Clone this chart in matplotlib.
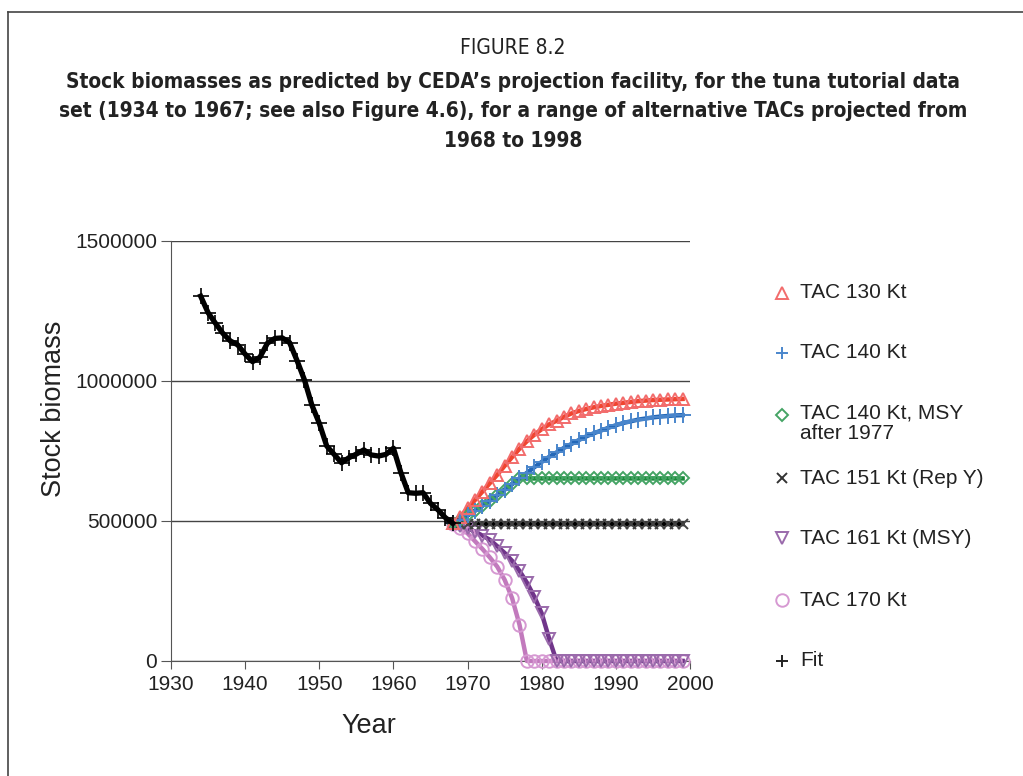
import matplotlib
matplotlib.use('Agg')
import matplotlib.pyplot as plt
from matplotlib.lines import Line2D
from matplotlib.ticker import FuncFormatter
from matplotlib import font_manager

plt.rcParams['font.family'] = ['Liberation Sans', 'DejaVu Sans']

# a condensed face for the caption, if there is one
title_family = 'Liberation Sans'
title_stretch = 'normal'
for f in font_manager.fontManager.ttflist:
    if f.name == 'DejaVu Sans' and str(f.stretch) in ('condensed', 'semi-condensed'):
        title_family, title_stretch = 'DejaVu Sans', 'condensed'
        break

# fitted biomass 1934-1968 (thousands of tonnes)
fit_years = list(range(1934, 1969))
fit_vals = [1303, 1244, 1206, 1170, 1143, 1129, 1096, 1069, 1085, 1135,
            1152, 1154, 1137, 1073, 1004, 914, 849, 768, 738, 708,
            726, 739, 754, 736, 732, 738, 760, 673, 601, 599,
            601, 563, 540, 512, 492]

# projections 1968-1999
proj_years = list(range(1968, 2000))
tac130 = [492, 515, 545, 575, 605, 635, 665, 697, 728, 758, 785, 808, 828, 845, 858, 872,
          884, 893, 900, 906, 911, 915, 919, 922, 925, 928, 930, 932, 933, 934, 935, 936]
tac140 = [492, 505, 520, 537, 555, 573, 592, 612, 632, 652, 672, 692, 711, 729, 745, 761,
          775, 789, 802, 813, 823, 833, 842, 850, 856, 862, 866, 870, 873, 875, 877, 878]
tac140_msy = [492, 505, 520, 537, 555, 573, 592, 612, 632, 652, 652, 652, 652, 652, 652, 652,
              652, 652, 652, 652, 652, 652, 652, 652, 652, 652, 652, 652, 652, 652, 652, 652]
tac151 = [492, 490, 489, 489, 489, 489, 489, 489, 489, 489, 489, 489, 489, 489, 489, 489,
          489, 489, 489, 489, 489, 489, 489, 489, 489, 489, 489, 489, 489, 489, 489, 489]
tac161 = [490, 483, 474, 462, 448, 433, 410, 386, 358, 322, 280, 230, 170, 80, 0, 0,
          0, 0, 0, 0, 0, 0, 0, 0, 0, 0, 0, 0, 0, 0, 0, 0]
tac170 = [490, 475, 456, 428, 400, 370, 337, 290, 225, 130, 0, 0, 0, 0, 0, 0,
          0, 0, 0, 0, 0, 0, 0, 0, 0, 0, 0, 0, 0, 0, 0, 0]

series = [
    # label, values, line colour, marker colour, marker, size
    ('TAC 170 Kt', tac170, '#c27abd', '#d699d2', 'o', 9),
    ('TAC 161 Kt (MSY)', tac161, '#70358a', '#9a6aab', 'v', 8),
    ('TAC 151 Kt (Rep Y)', tac151, '#000000', '#444444', 'x', 7),
    ('TAC 140 Kt, MSY\nafter 1977', tac140_msy, '#1a8a3a', '#45a465', 'D', 6),
    ('TAC 140 Kt', tac140, '#2468b8', '#4a86cc', '+', 11),
    ('TAC 130 Kt', tac130, '#f04530', '#f26c6c', '^', 8),
]

fig = plt.figure(figsize=(10.23, 7.76), dpi=100)
ax = fig.add_axes([171 / 1023, 1 - 661 / 776, 519 / 1023, 420 / 776])

for label, vals, lc, mc, mk, ms in series:
    v = [x * 1000 for x in vals]
    ax.plot(proj_years, v, color=lc, lw=3.2, zorder=3, clip_on=False)
    ax.plot(proj_years, v, ls='none', marker=mk, ms=ms, mfc='none', mec=mc,
            mew=1.4, zorder=4, clip_on=False)

fv = [x * 1000 for x in fit_vals]
ax.plot(fit_years, fv, color='black', lw=3.8, zorder=5)
ax.plot(fit_years, fv, ls='none', marker='+', ms=11, mec='black', mew=1.2, zorder=6)

ax.set_xlim(1930, 2000)
ax.set_ylim(0, 1500000)
ax.set_xticks(range(1930, 2001, 10))
ax.set_yticks([0, 500000, 1000000, 1500000])
ax.yaxis.set_major_formatter(FuncFormatter(lambda v, p: f'{int(v)}'))
ax.tick_params(axis='both', labelsize=15, color='#555555', labelcolor='#222222')
ax.tick_params(axis='x', length=6, pad=4)
ax.tick_params(axis='y', length=7, pad=3)
ax.grid(axis='y', color='#444444', lw=1)
ax.set_axisbelow(True)
for s in ['top', 'right']:
    ax.spines[s].set_visible(False)
for s in ['left', 'bottom']:
    ax.spines[s].set_color('#555555')

ax.set_xlabel('Year', fontsize=19.5, x=0.381, labelpad=14, color='#222222')
ax.set_ylabel('Stock biomass', fontsize=19.5, y=0.6, labelpad=6, color='#222222')

# legend on the right
legend_rows = [
    ('TAC 130 Kt', '#f26c6c', '^', 8, 293),
    ('TAC 140 Kt', '#4a86cc', '+', 9, 353),
    ('TAC 140 Kt, MSY\nafter 1977', '#45a465', 'D', 6, 415),
    ('TAC 151 Kt (Rep Y)', '#333333', 'x', 7, 478),
    ('TAC 161 Kt (MSY)', '#9a6aab', 'v', 8, 538),
    ('TAC 170 Kt', '#d699d2', 'o', 9, 600),
    ('Fit', '#222222', '+', 9, 661),
]
for label, mc, mk, ms, ypix in legend_rows:
    yf = 1 - ypix / 776
    fig.add_artist(Line2D([782 / 1023], [yf], transform=fig.transFigure, ls='none',
                          marker=mk, ms=ms, mfc='none', mec=mc, mew=1.4))
    if '\n' in label:
        fig.text(800 / 1023, 1 - (ypix - 12) / 776, label, fontsize=15, va='top',
                 linespacing=1.1, color='#222222')
    else:
        fig.text(800 / 1023, yf, label, fontsize=15, va='center', color='#222222')

# caption
fig.text(0.5015, 1 - 48 / 776, 'FIGURE 8.2', fontsize=15, ha='center', va='center',
         family=title_family, stretch=title_stretch, color='#222222')
caption_lines = ["Stock biomasses as predicted by CEDA\u2019s projection facility, for the tuna tutorial data",
                 "set (1934 to 1967; see also Figure 4.6), for a range of alternative TACs projected from",
                 "1968 to 1998"]
caption_y = [82, 111, 141]
texts = []
for line, yp in zip(caption_lines, caption_y):
    texts.append(fig.text(0.5015, 1 - yp / 776, line, fontsize=16, ha='center', va='center',
                          fontweight='bold', family=title_family, stretch=title_stretch,
                          color='#222222'))
# shrink the caption so its widest line fits the width of the reference block
fig.canvas.draw()
widest = max(t.get_window_extent().width for t in texts)
fs = min(16, 16 * 910 / widest)
for t in texts:
    t.set_fontsize(fs)

# page frame
fig.add_artist(Line2D([8 / 1023, 1], [1 - 12 / 776, 1 - 12 / 776], transform=fig.transFigure,
                      color='#444444', lw=1.2))
fig.add_artist(Line2D([8 / 1023, 8 / 1023], [0, 1 - 12 / 776], transform=fig.transFigure,
                      color='#444444', lw=1.2))

fig.savefig('out.png', dpi=100)
